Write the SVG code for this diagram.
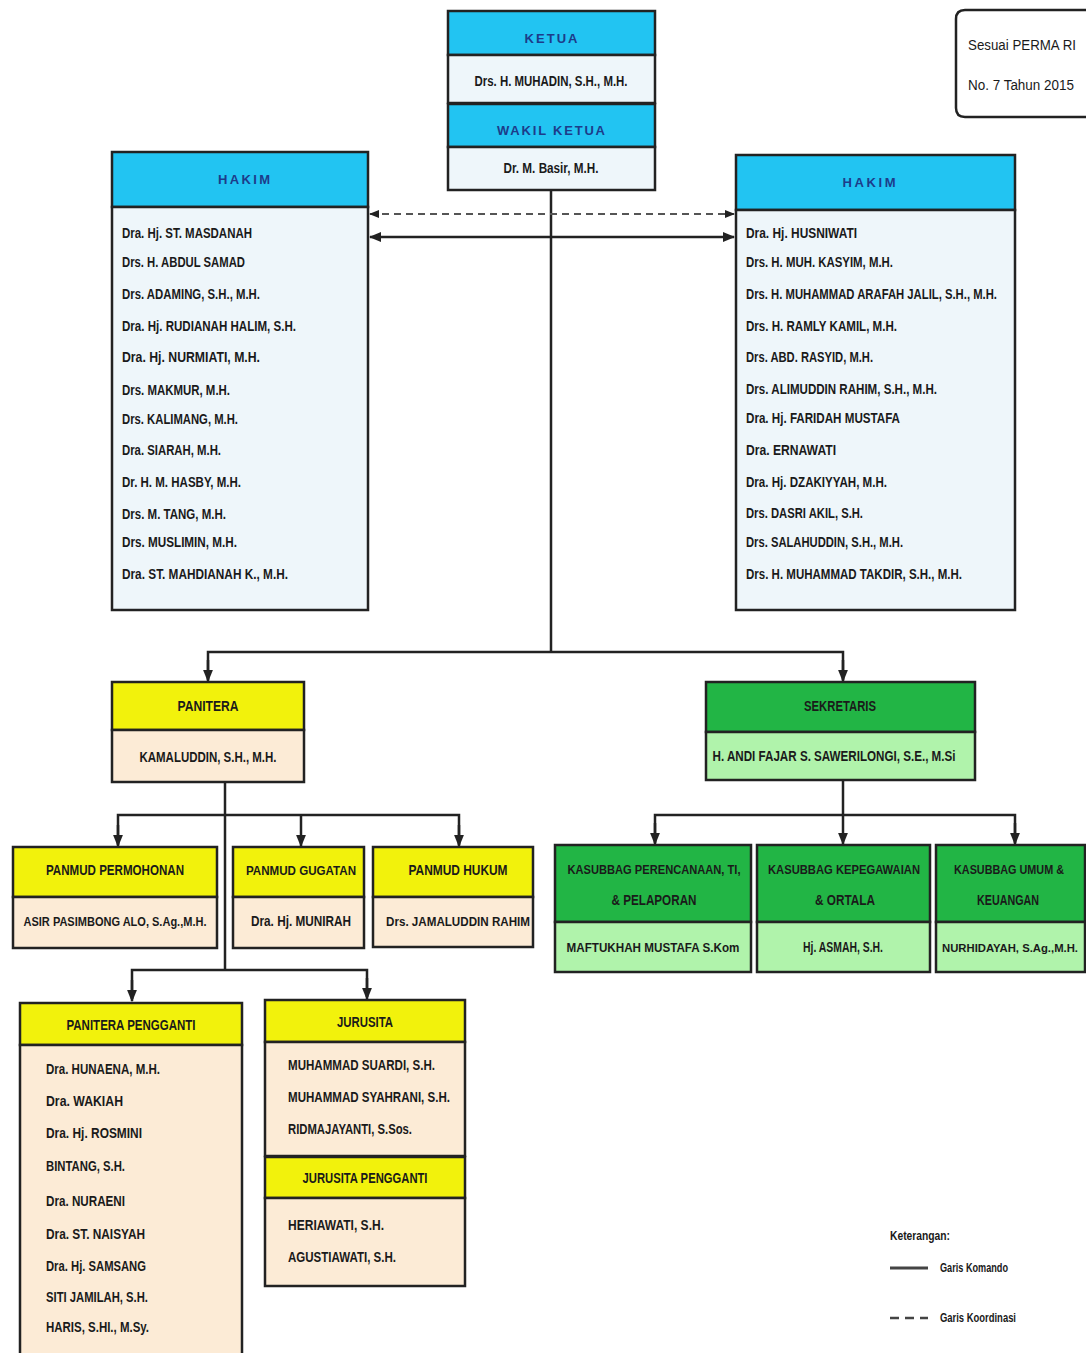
<svg xmlns="http://www.w3.org/2000/svg" width="1086" height="1353" viewBox="0 0 1086 1353">
<defs>
<marker id="arr" viewBox="0 0 10 10" refX="9" refY="5" markerWidth="5" markerHeight="5" orient="auto-start-reverse">
<path d="M0,1 L10,5 L0,9 z" fill="#222"/>
</marker>
<style>
text{font-family:"Liberation Sans",Arial,sans-serif;font-weight:bold;fill:#1a1a1a}
.box{stroke:#222;stroke-width:2.5}
.cy{fill:#22c4f2}
.lb{fill:#eef6fa}
.ye{fill:#f2f20c}
.pe{fill:#fcebd6}
.gr{fill:#22b545}
.lg{fill:#b0f3ab}
.ht{font-size:13px;fill:#1d3c8a;text-anchor:middle}
.c{text-anchor:middle;font-size:14.5px}
.s{font-size:12.5px}
.n{font-size:15px}
.line{stroke:#222;stroke-width:2.5;fill:none}
.dash{stroke:#555;stroke-width:2;fill:none;stroke-dasharray:7,5}
</style>
</defs>
<rect width="1086" height="1353" fill="#ffffff"/>

<g id="connectors">
<line class="line" x1="551" y1="190" x2="551" y2="652"/>
<line class="dash" x1="370" y1="214" x2="734" y2="214" marker-start="url(#arr)" marker-end="url(#arr)"/>
<line class="line" x1="370" y1="237" x2="734" y2="237" marker-start="url(#arr)" marker-end="url(#arr)"/>
<polyline class="line" points="208,680 208,652 843,652 843,680"/>
<line class="line" x1="208" y1="660" x2="208" y2="681" marker-end="url(#arr)"/>
<line class="line" x1="843" y1="660" x2="843" y2="681" marker-end="url(#arr)"/>
<line class="line" x1="225" y1="782" x2="225" y2="970"/>
<polyline class="line" points="118,845 118,815 459,815 459,845"/>
<line class="line" x1="118" y1="825" x2="118" y2="846" marker-end="url(#arr)"/>
<line class="line" x1="301" y1="815" x2="301" y2="846" marker-end="url(#arr)"/>
<line class="line" x1="459" y1="825" x2="459" y2="846" marker-end="url(#arr)"/>
<polyline class="line" points="132,999 132,970 367,970 367,997"/>
<line class="line" x1="132" y1="980" x2="132" y2="1001" marker-end="url(#arr)"/>
<line class="line" x1="367" y1="978" x2="367" y2="999" marker-end="url(#arr)"/>
<line class="line" x1="843" y1="780" x2="843" y2="815"/>
<polyline class="line" points="655,843 655,815 1015,815 1015,843"/>
<line class="line" x1="655" y1="823" x2="655" y2="844" marker-end="url(#arr)"/>
<line class="line" x1="843" y1="815" x2="843" y2="844" marker-end="url(#arr)"/>
<line class="line" x1="1015" y1="823" x2="1015" y2="844" marker-end="url(#arr)"/>
</g>

<g id="note">
<path d="M1086,10 L965,10 Q956,10 956,19 L956,108 Q956,117 965,117 L1086,117" fill="#fff" stroke="#222" stroke-width="2.5"/>
<text x="968" y="50" style="font-size:14px;font-weight:normal" textLength="108" lengthAdjust="spacingAndGlyphs">Sesuai  PERMA RI</text>
<text x="968" y="90" style="font-size:14px;font-weight:normal" textLength="106" lengthAdjust="spacingAndGlyphs">No. 7 Tahun 2015</text>
</g>

<g id="ketua">
<rect class="box cy" x="448" y="11" width="207" height="44"/>
<text class="ht" x="551" y="43" textLength="53" lengthAdjust="spacing">KETUA</text>
<rect class="box lb" x="448" y="55" width="207" height="48"/>
<text class="c" x="551" y="86" textLength="153" lengthAdjust="spacingAndGlyphs">Drs. H. MUHADIN, S.H., M.H.</text>
</g>
<g id="wakil">
<rect class="box cy" x="448" y="104" width="207" height="43"/>
<text class="ht" x="551" y="135" textLength="108" lengthAdjust="spacing">WAKIL KETUA</text>
<rect class="box lb" x="448" y="147" width="207" height="43"/>
<text class="c" x="551" y="173" textLength="95" lengthAdjust="spacingAndGlyphs">Dr. M. Basir, M.H.</text>
</g>

<g id="hakim-kiri">
<rect class="box cy" x="112" y="152" width="256" height="55"/>
<text class="ht" x="244" y="184" textLength="52" lengthAdjust="spacing">HAKIM</text>
<rect class="box lb" x="112" y="207" width="256" height="403"/>
<text class="n" x="122" y="238" textLength="130" lengthAdjust="spacingAndGlyphs">Dra. Hj. ST. MASDANAH</text>
<text class="n" x="122" y="267" textLength="123" lengthAdjust="spacingAndGlyphs">Drs. H. ABDUL SAMAD</text>
<text class="n" x="122" y="299" textLength="138" lengthAdjust="spacingAndGlyphs">Drs. ADAMING, S.H., M.H.</text>
<text class="n" x="122" y="331" textLength="174" lengthAdjust="spacingAndGlyphs">Dra. Hj. RUDIANAH HALIM, S.H.</text>
<text class="n" x="122" y="362" textLength="138" lengthAdjust="spacingAndGlyphs">Dra. Hj. NURMIATI, M.H.</text>
<text class="n" x="122" y="395" textLength="108" lengthAdjust="spacingAndGlyphs">Drs. MAKMUR, M.H.</text>
<text class="n" x="122" y="424" textLength="116" lengthAdjust="spacingAndGlyphs">Drs. KALIMANG, M.H.</text>
<text class="n" x="122" y="455" textLength="99" lengthAdjust="spacingAndGlyphs">Dra. SIARAH, M.H.</text>
<text class="n" x="122" y="487" textLength="119" lengthAdjust="spacingAndGlyphs">Dr. H. M. HASBY, M.H.</text>
<text class="n" x="122" y="519" textLength="104" lengthAdjust="spacingAndGlyphs">Drs. M. TANG, M.H.</text>
<text class="n" x="122" y="547" textLength="115" lengthAdjust="spacingAndGlyphs">Drs. MUSLIMIN, M.H.</text>
<text class="n" x="122" y="579" textLength="166" lengthAdjust="spacingAndGlyphs">Dra. ST. MAHDIANAH K., M.H.</text>
</g>

<g id="hakim-kanan">
<rect class="box cy" x="736" y="155" width="279" height="55"/>
<text class="ht" x="869" y="187" textLength="53" lengthAdjust="spacing">HAKIM</text>
<rect class="box lb" x="736" y="210" width="279" height="400"/>
<text class="n" x="746" y="238" textLength="111" lengthAdjust="spacingAndGlyphs">Dra. Hj. HUSNIWATI</text>
<text class="n" x="746" y="267" textLength="147" lengthAdjust="spacingAndGlyphs">Drs. H. MUH. KASYIM, M.H.</text>
<text class="n" x="746" y="299" textLength="251" lengthAdjust="spacingAndGlyphs">Drs. H. MUHAMMAD ARAFAH JALIL, S.H., M.H.</text>
<text class="n" x="746" y="331" textLength="151" lengthAdjust="spacingAndGlyphs">Drs. H. RAMLY KAMIL, M.H.</text>
<text class="n" x="746" y="362" textLength="127" lengthAdjust="spacingAndGlyphs">Drs. ABD. RASYID, M.H.</text>
<text class="n" x="746" y="394" textLength="191" lengthAdjust="spacingAndGlyphs">Drs. ALIMUDDIN RAHIM, S.H., M.H.</text>
<text class="n" x="746" y="423" textLength="154" lengthAdjust="spacingAndGlyphs">Dra. Hj. FARIDAH MUSTAFA</text>
<text class="n" x="746" y="455" textLength="90" lengthAdjust="spacingAndGlyphs">Dra. ERNAWATI</text>
<text class="n" x="746" y="487" textLength="141" lengthAdjust="spacingAndGlyphs">Dra. Hj. DZAKIYYAH, M.H.</text>
<text class="n" x="746" y="518" textLength="117" lengthAdjust="spacingAndGlyphs">Drs. DASRI AKIL, S.H.</text>
<text class="n" x="746" y="547" textLength="157" lengthAdjust="spacingAndGlyphs">Drs. SALAHUDDIN, S.H., M.H.</text>
<text class="n" x="746" y="579" textLength="216" lengthAdjust="spacingAndGlyphs">Drs. H. MUHAMMAD TAKDIR, S.H., M.H.</text>
</g>

<g id="panitera">
<rect class="box ye" x="112" y="682" width="192" height="48"/>
<text class="c" x="208" y="711" textLength="61" lengthAdjust="spacingAndGlyphs">PANITERA</text>
<rect class="box pe" x="112" y="730" width="192" height="52"/>
<text class="c" x="208" y="762" textLength="137" lengthAdjust="spacingAndGlyphs">KAMALUDDIN, S.H., M.H.</text>
</g>

<g id="sekretaris">
<rect class="box gr" x="706" y="682" width="269" height="50"/>
<text class="c" x="840" y="711" textLength="72" lengthAdjust="spacingAndGlyphs">SEKRETARIS</text>
<rect class="box lg" x="706" y="732" width="269" height="48"/>
<text class="c" x="834" y="761" textLength="243" lengthAdjust="spacingAndGlyphs">H. ANDI FAJAR S. SAWERILONGI, S.E., M.Si</text>
</g>

<g id="panmud-permohonan">
<rect class="box ye" x="13" y="847" width="204" height="50"/>
<text class="c" x="115" y="875" textLength="138" lengthAdjust="spacingAndGlyphs">PANMUD PERMOHONAN</text>
<rect class="box pe" x="13" y="897" width="204" height="51"/>
<text class="c s" x="115" y="926" textLength="183" lengthAdjust="spacingAndGlyphs">ASIR PASIMBONG ALO, S.Ag.,M.H.</text>
</g>
<g id="panmud-gugatan">
<rect class="box ye" x="233" y="847" width="131" height="50"/>
<text class="c s" x="301" y="875" textLength="110" lengthAdjust="spacingAndGlyphs">PANMUD GUGATAN</text>
<rect class="box pe" x="233" y="897" width="131" height="51"/>
<text class="c" x="301" y="926" textLength="100" lengthAdjust="spacingAndGlyphs">Dra. Hj. MUNIRAH</text>
</g>
<g id="panmud-hukum">
<rect class="box ye" x="373" y="847" width="160" height="50"/>
<text class="c" x="458" y="875" textLength="99" lengthAdjust="spacingAndGlyphs">PANMUD HUKUM</text>
<rect class="box pe" x="373" y="897" width="160" height="50"/>
<text class="c s" x="458" y="926" textLength="144" lengthAdjust="spacingAndGlyphs">Drs. JAMALUDDIN RAHIM</text>
</g>

<g id="kasubbag-perencanaan">
<rect class="box gr" x="555" y="845" width="196" height="77"/>
<text class="c s" x="654" y="874" textLength="173" lengthAdjust="spacingAndGlyphs">KASUBBAG PERENCANAAN, TI,</text>
<text class="c" x="654" y="905" textLength="85" lengthAdjust="spacingAndGlyphs">&amp; PELAPORAN</text>
<rect class="box lg" x="555" y="922" width="196" height="50"/>
<text class="c s" x="653" y="952" textLength="173" lengthAdjust="spacingAndGlyphs">MAFTUKHAH MUSTAFA  S.Kom</text>
</g>
<g id="kasubbag-kepegawaian">
<rect class="box gr" x="757" y="845" width="173" height="77"/>
<text class="c s" x="844" y="874" textLength="152" lengthAdjust="spacingAndGlyphs">KASUBBAG KEPEGAWAIAN</text>
<text class="c" x="845" y="905" textLength="60" lengthAdjust="spacingAndGlyphs">&amp; ORTALA</text>
<rect class="box lg" x="757" y="922" width="173" height="50"/>
<text class="c" x="843" y="952" textLength="80" lengthAdjust="spacingAndGlyphs">Hj. ASMAH, S.H.</text>
</g>
<g id="kasubbag-umum">
<rect class="box gr" x="936" y="845" width="149" height="77"/>
<text class="c s" x="1009" y="874" textLength="110" lengthAdjust="spacingAndGlyphs">KASUBBAG UMUM &amp;</text>
<text class="c" x="1008" y="905" textLength="62" lengthAdjust="spacingAndGlyphs">KEUANGAN</text>
<rect class="box lg" x="936" y="922" width="149" height="50"/>
<text class="c" x="1010" y="952" style="font-size:11.5px" textLength="136" lengthAdjust="spacingAndGlyphs">NURHIDAYAH, S.Ag.,M.H.</text>
</g>

<g id="panitera-pengganti">
<rect class="box ye" x="20" y="1003" width="222" height="42"/>
<text class="c" x="131" y="1030" textLength="129" lengthAdjust="spacingAndGlyphs">PANITERA PENGGANTI</text>
<rect class="box pe" x="20" y="1045" width="222" height="320"/>
<text class="n" x="46" y="1074" textLength="114" lengthAdjust="spacingAndGlyphs">Dra. HUNAENA, M.H.</text>
<text class="n" x="46" y="1106" textLength="77" lengthAdjust="spacingAndGlyphs">Dra. WAKIAH</text>
<text class="n" x="46" y="1138" textLength="96" lengthAdjust="spacingAndGlyphs">Dra. Hj. ROSMINI</text>
<text class="n" x="46" y="1171" textLength="79" lengthAdjust="spacingAndGlyphs">BINTANG, S.H.</text>
<text class="n" x="46" y="1206" textLength="79" lengthAdjust="spacingAndGlyphs">Dra. NURAENI</text>
<text class="n" x="46" y="1239" textLength="99" lengthAdjust="spacingAndGlyphs">Dra. ST. NAISYAH</text>
<text class="n" x="46" y="1271" textLength="100" lengthAdjust="spacingAndGlyphs">Dra. Hj. SAMSANG</text>
<text class="n" x="46" y="1302" textLength="102" lengthAdjust="spacingAndGlyphs">SITI JAMILAH, S.H.</text>
<text class="n" x="46" y="1332" textLength="103" lengthAdjust="spacingAndGlyphs">HARIS, S.HI., M.Sy.</text>
</g>

<g id="jurusita">
<rect class="box ye" x="265" y="1000" width="200" height="42"/>
<text class="c" x="365" y="1027" textLength="56" lengthAdjust="spacingAndGlyphs">JURUSITA</text>
<rect class="box pe" x="265" y="1042" width="200" height="114"/>
<text class="n" x="288" y="1070" textLength="147" lengthAdjust="spacingAndGlyphs">MUHAMMAD SUARDI, S.H.</text>
<text class="n" x="288" y="1102" textLength="162" lengthAdjust="spacingAndGlyphs">MUHAMMAD SYAHRANI, S.H.</text>
<text class="n" x="288" y="1134" textLength="124" lengthAdjust="spacingAndGlyphs">RIDMAJAYANTI, S.Sos.</text>
</g>
<g id="jurusita-pengganti">
<rect class="box ye" x="265" y="1157" width="200" height="41"/>
<text class="c" x="365" y="1183" textLength="125" lengthAdjust="spacingAndGlyphs">JURUSITA PENGGANTI</text>
<rect class="box pe" x="265" y="1198" width="200" height="88"/>
<text class="n" x="288" y="1230" textLength="96" lengthAdjust="spacingAndGlyphs">HERIAWATI, S.H.</text>
<text class="n" x="288" y="1262" textLength="108" lengthAdjust="spacingAndGlyphs">AGUSTIAWATI, S.H.</text>
</g>

<g id="legend">
<text x="890" y="1240" style="font-size:12px" textLength="60" lengthAdjust="spacingAndGlyphs">Keterangan:</text>
<line x1="890" y1="1268" x2="928" y2="1268" stroke="#444" stroke-width="3"/>
<text x="940" y="1272" style="font-size:12px" textLength="68" lengthAdjust="spacingAndGlyphs">Garis Komando</text>
<line x1="890" y1="1318" x2="928" y2="1318" stroke="#444" stroke-width="2.5" stroke-dasharray="9,6"/>
<text x="940" y="1322" style="font-size:12px" textLength="76" lengthAdjust="spacingAndGlyphs">Garis Koordinasi</text>
</g>
</svg>
